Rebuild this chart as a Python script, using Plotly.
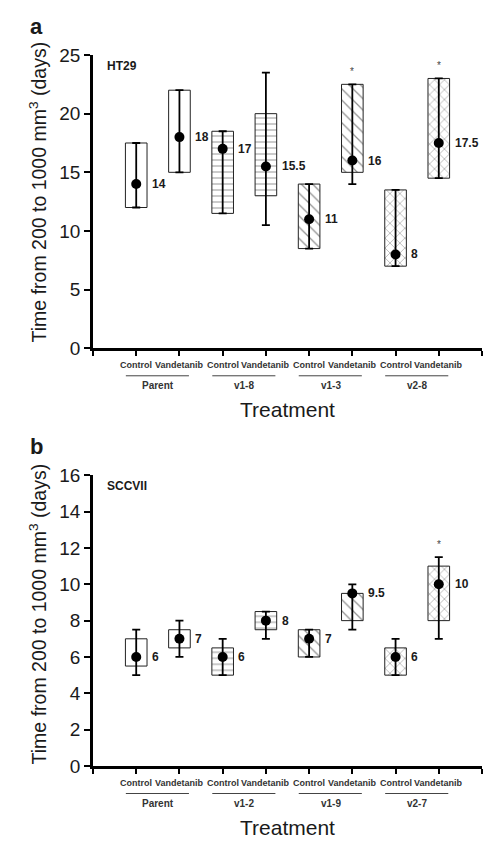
import plotly.graph_objects as go

# ---------------- data ----------------
positions = [1, 2, 3, 4, 5, 6, 7, 8]
treatments = ["Control", "Vandetanib", "Control", "Vandetanib",
              "Control", "Vandetanib", "Control", "Vandetanib"]

groups_a = ["Parent", "v1-8", "v1-3", "v2-8"]
median_a = [14, 18, 17, 15.5, 11, 16, 8, 17.5]
q1_a = [12, 15, 11.5, 13, 8.5, 15, 7, 14.5]
q3_a = [17.5, 22, 18.5, 20, 14, 22.5, 13.5, 23]
lo_a = [12, 15, 11.5, 10.5, 8.5, 14, 7, 14.5]
hi_a = [17.5, 22, 18.5, 23.5, 14, 22.5, 13.5, 23]
labels_a = ["14", "18", "17", "15.5", "11", "16", "8", "17.5"]
sig_a = [False, False, False, False, False, True, False, True]

groups_b = ["Parent", "v1-2", "v1-9", "v2-7"]
median_b = [6, 7, 6, 8, 7, 9.5, 6, 10]
q1_b = [5.5, 6.5, 5, 7.5, 6, 8, 5, 8]
q3_b = [7, 7.5, 6.5, 8.5, 7.5, 9.5, 6.5, 11]
lo_b = [5, 6, 5, 7, 6, 7.5, 5, 7]
hi_b = [7.5, 8, 7, 8.5, 7.5, 10, 7, 11.5]
labels_b = ["6", "7", "6", "8", "7", "9.5", "6", "10"]
sig_b = [False, False, False, False, False, False, False, True]

# ---------------- style ----------------
FONT = "Liberation Sans, Arial, sans-serif"
TXT = "#1a1a1a"
pattern_shapes = ["", "", "-", "-", "\\", "\\", "x", "x"]
pattern_sizes = [8, 8, 6, 6, 8, 8, 7, 7]

fig = go.Figure()


def add_panel(xa, ya, q1, q3, med, lo, hi):
    fig.add_trace(go.Bar(
        x=positions, y=[b - a for a, b in zip(q1, q3)], base=q1, width=0.5,
        xaxis=xa, yaxis=ya, showlegend=False, hoverinfo="skip",
        marker=dict(color="white", line=dict(color="#222", width=1),
                    pattern=dict(shape=pattern_shapes, size=pattern_sizes,
                                 solidity=0.16, fgcolor="#222", bgcolor="white",
                                 fillmode="overlay")),
    ))
    fig.add_trace(go.Scatter(
        x=positions, y=med, mode="markers", xaxis=xa, yaxis=ya,
        showlegend=False, cliponaxis=False,
        marker=dict(color="black", size=10),
        error_y=dict(type="data", symmetric=False,
                     array=[h - m for h, m in zip(hi, med)],
                     arrayminus=[m - l for m, l in zip(med, lo)],
                     thickness=1.8, width=4, color="black"),
    ))


add_panel("x", "y", q1_a, q3_a, median_a, lo_a, hi_a)
add_panel("x2", "y2", q1_b, q3_b, median_b, lo_b, hi_b)

annotations = []
shapes = []


def panel_annots(xr, yr, med, labels, hi, sig, groups, letter, cell, ytitle_text, title_shift):
    yd = yr + " domain"
    for p, m, lab in zip(positions, med, labels):
        annotations.append(dict(x=p + 0.25, y=m, xref=xr, yref=yr, text="<b>%s</b>" % lab,
                                showarrow=False, xanchor="left", yanchor="middle", xshift=3,
                                font=dict(family=FONT, size=12, color=TXT)))
    for p, h, s in zip(positions, hi, sig):
        if s:
            annotations.append(dict(x=p, y=h, xref=xr, yref=yr, text="*",
                                    showarrow=False, xanchor="center", yanchor="middle",
                                    yshift=13, font=dict(family=FONT, size=10, color="#444")))
    for p, t in zip(positions, treatments):
        annotations.append(dict(x=p, y=0, xref=xr, yref=yd, text="<b>%s</b>" % t, showarrow=False,
                                xanchor="center", yanchor="middle", yshift=-17,
                                font=dict(family=FONT, size=9, color="#333")))
    for i, g in enumerate(groups):
        c = 1.5 + 2 * i
        shapes.append(dict(type="line", xref=xr, yref=yd, x0=c - 0.74, x1=c + 0.72,
                           y0=-27.5, y1=-27.5, ysizemode="pixel", yanchor=0,
                           line=dict(color="#444", width=1)))
        annotations.append(dict(x=c, y=0, xref=xr, yref=yd, text="<b>%s</b>" % g, showarrow=False,
                                xanchor="center", yanchor="middle", yshift=-37,
                                font=dict(family=FONT, size=10, color="#333")))
    annotations.append(dict(x=4.5, y=0, xref=xr, yref=yd, text="Treatment", showarrow=False,
                            xanchor="center", yanchor="middle", yshift=-61,
                            font=dict(family=FONT, size=21, color=TXT)))
    annotations.append(dict(x=-0.145, y=1, xref="paper", yref=yd, text="<b>%s</b>" % letter,
                            showarrow=False, xanchor="center", yanchor="middle", yshift=29,
                            font=dict(family=FONT, size=22, color=TXT)))
    annotations.append(dict(x=0.031, y=1, xref="paper", yref=yd, text="<b>%s</b>" % cell,
                            showarrow=False, xanchor="left", yanchor="middle", yshift=-11,
                            font=dict(family=FONT, size=12, color=TXT)))
    annotations.append(dict(x=-0.142, y=0.5, xref="paper", yref=yd, text=ytitle_text,
                            showarrow=False, xanchor="center", yanchor="middle", textangle=-90,
                            yshift=title_shift,
                            font=dict(family=FONT, size=19.5, color=TXT)))


ytitle = "Time from 200 to 1000 mm<sup>3</sup> (days)"
panel_annots("x", "y", median_a, labels_a, hi_a, sig_a, groups_a, "a", "HT29", ytitle, 10)
panel_annots("x2", "y2", median_b, labels_b, hi_b, sig_b, groups_b, "b", "SCCVII", ytitle, 7)

xaxis_style = dict(range=[0, 9], tickvals=list(range(10)), showticklabels=False,
                   ticks="outside", ticklen=5, tickwidth=1.5, tickcolor="black",
                   showline=True, linewidth=2.5, linecolor="black",
                   showgrid=False, zeroline=False, fixedrange=True)
yaxis_style = dict(ticks="outside", ticklen=6, tickwidth=1.5, tickcolor="black",
                   showline=True, linewidth=2.5, linecolor="black",
                   showgrid=False, zeroline=False,
                   tickfont=dict(family=FONT, size=19, color=TXT))

fig.update_layout(
    width=491, height=844,
    margin=dict(l=85, r=17, t=47, b=86),
    paper_bgcolor="white", plot_bgcolor="white",
    barmode="overlay",
    xaxis=dict(domain=[0, 1], anchor="y", **xaxis_style),
    yaxis=dict(domain=[0.5875, 1], anchor="x", range=[0, 25], dtick=5, **yaxis_style),
    xaxis2=dict(domain=[0, 1], anchor="y2", **xaxis_style),
    yaxis2=dict(domain=[0, 0.4089], anchor="x2", range=[0, 16], dtick=2, **yaxis_style),
    annotations=annotations,
    shapes=shapes,
    font=dict(family=FONT),
)

fig.write_html("out.html")
